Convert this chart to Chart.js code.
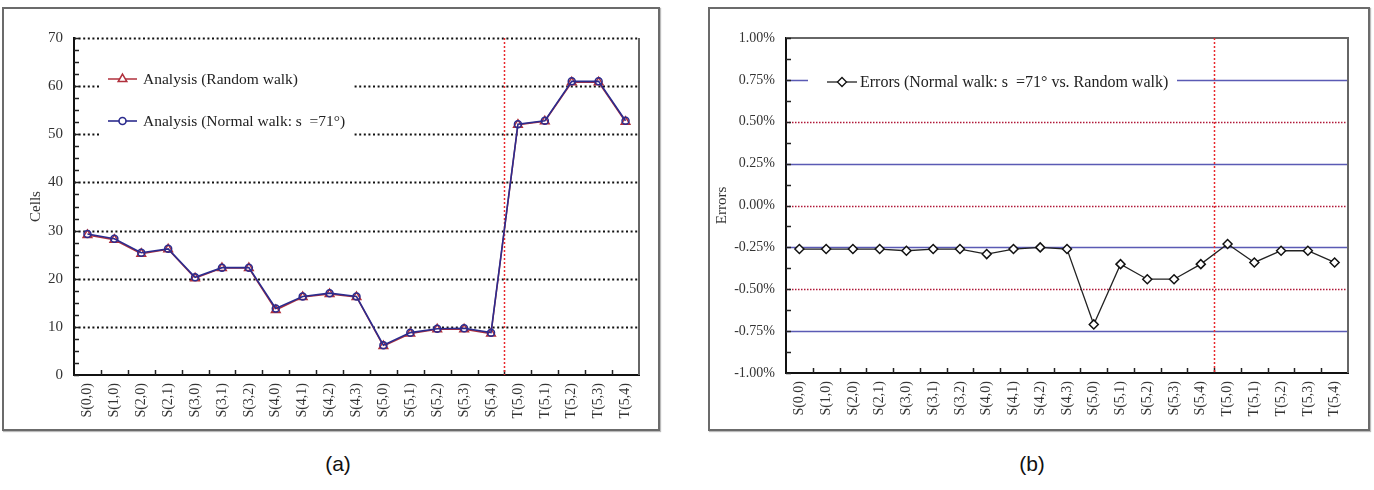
<!DOCTYPE html>
<html lang="en">
<head>
<meta charset="UTF-8">
<title>Cells and errors</title>
<script src="https://cdn.jsdelivr.net/npm/chart.js"></script>
<style>
    body { margin: 0; background: #fff; width: 1374px; height: 490px; position: relative; overflow: hidden; }
    .panel { position: absolute; top: 7px; height: 420px; border: 2px solid #6b6b6b; box-shadow: 1px 1px 1px #bbb; }
    #panelA { left: 2px; width: 654px; }
    #panelB { left: 708px; width: 658px; }
    .panel canvas { position: absolute; left: 0; top: 0; }
    .caption { position: absolute; top: 452px; font-family: "Liberation Sans", Arial, sans-serif; font-size: 21px; color: #111; width: 60px; text-align: center; }
</style>
</head>
<body>
    <div class="panel" id="panelA"><canvas id="cellsChart" width="654" height="420"></canvas></div>
    <div class="panel" id="panelB"><canvas id="errorsChart" width="658" height="420"></canvas></div>
    <div class="caption" style="left:308px">(a)</div>
    <div class="caption" style="left:1002px">(b)</div>
<script>
    var categorias = ['S(0,0)', 'S(1,0)', 'S(2,0)', 'S(2,1)', 'S(3,0)', 'S(3,1)', 'S(3,2)', 'S(4,0)', 'S(4,1)', 'S(4,2)', 'S(4,3)',
        'S(5,0)', 'S(5,1)', 'S(5,2)', 'S(5,3)', 'S(5,4)', 'T(5,0)', 'T(5,1)', 'T(5,2)', 'T(5,3)', 'T(5,4)']
    var randomWalk = [29.1, 28.1, 25.2, 26.1, 20.1, 22.2, 22.2, 13.5, 16.2, 16.8, 16.2, 6.0, 8.6, 9.5, 9.5, 8.6, 52.0, 52.7, 60.8, 60.8, 52.6]
    var normalWalk = [29.3, 28.3, 25.4, 26.2, 20.3, 22.3, 22.3, 13.8, 16.3, 17.0, 16.3, 6.2, 8.8, 9.6, 9.7, 8.8, 52.1, 52.8, 61.0, 61.0, 52.8]
    var erros = [-0.26, -0.26, -0.26, -0.26, -0.27, -0.26, -0.26, -0.29, -0.26, -0.25, -0.26,
        -0.71, -0.35, -0.44, -0.44, -0.35, -0.23, -0.34, -0.27, -0.27, -0.34]
    var cellsTicks = [0, 10, 20, 30, 40, 50, 60, 70]
    var errosTicks = [-1, -0.75, -0.5, -0.25, 0, 0.25, 0.5, 0.75, 1]
    var inicioT = categorias.indexOf('T(5,0)')

    var serif = '"Liberation Serif", "Times New Roman", serif'

    // grid, inner ticks, split line and the legend box inside the plot
    const decor = {
        id: 'decor',
        beforeDatasetsDraw(chart, args, opts) {
            const ctx = chart.ctx, a = chart.chartArea, x = chart.scales.x, y = chart.scales.y
            ctx.save()
            y.ticks.forEach(function (t) {
                var st = opts.gridStyle(t.value)
                if (!st) return
                var py = Math.round(y.getPixelForValue(t.value)) + 0.5
                ctx.beginPath()
                ctx.strokeStyle = st.color
                ctx.lineWidth = st.width
                ctx.setLineDash(st.dash || [])
                ctx.moveTo(a.left, py)
                ctx.lineTo(a.right, py)
                ctx.stroke()
            })
            ctx.setLineDash([])
            // frame on right (and top)
            ctx.strokeStyle = '#666'
            ctx.lineWidth = 2
            ctx.beginPath()
            if (opts.topBorder) { ctx.moveTo(a.left, a.top); ctx.lineTo(a.right, a.top) } else { ctx.moveTo(a.right, a.top) }
            ctx.lineTo(a.right, a.bottom)
            ctx.stroke()
            // inner minor ticks on y
            ctx.strokeStyle = '#222'
            ctx.lineWidth = 1.5
            for (var v = y.min; v <= y.max + 1e-9; v += opts.minorStep) {
                var p = Math.round(y.getPixelForValue(v)) + 0.5
                ctx.beginPath(); ctx.moveTo(a.left, p); ctx.lineTo(a.left + 5, p); ctx.stroke()
            }
            // inner ticks on x at category boundaries
            for (var i = 1; i < categorias.length; i++) {
                var bx = Math.round((x.getPixelForValue(i - 1) + x.getPixelForValue(i)) / 2) + 0.5
                ctx.beginPath(); ctx.moveTo(bx, a.bottom); ctx.lineTo(bx, a.bottom - 5); ctx.stroke()
            }
            // red split line between S and T
            var sx = Math.round((x.getPixelForValue(inicioT - 1) + x.getPixelForValue(inicioT)) / 2) + 0.5
            ctx.strokeStyle = '#e8282c'
            ctx.lineWidth = 1.5
            ctx.setLineDash([2, 2])
            ctx.beginPath(); ctx.moveTo(sx, a.top); ctx.lineTo(sx, a.bottom); ctx.stroke()
            ctx.setLineDash([])
            // legend
            var lg = opts.legend
            ctx.fillStyle = '#fff'
            ctx.fillRect(a.left + lg.box[0], a.top + lg.box[1], lg.box[2], lg.box[3])
            chart.data.datasets.forEach(function (ds, k) {
                var ly = a.top + lg.rows[k]
                ctx.strokeStyle = ds.borderColor
                ctx.lineWidth = ds.borderWidth
                ctx.beginPath(); ctx.moveTo(a.left + lg.line[0], ly); ctx.lineTo(a.left + lg.line[1], ly); ctx.stroke()
                ctx.fillStyle = '#fff'
                ctx.strokeStyle = ds.pointBorderColor
                Chart.helpers.drawPoint(ctx, { pointStyle: ds.pointStyle, radius: ds.pointRadius, borderWidth: ds.pointBorderWidth, rotation: 0 },
                    a.left + (lg.line[0] + lg.line[1]) / 2, ly)
                ctx.fillStyle = '#222'
                ctx.font = lg.fontSize + 'px ' + serif
                ctx.textAlign = 'left'
                ctx.textBaseline = 'middle'
                ctx.fillText(ds.label, a.left + lg.text, ly + 1)
            })
            ctx.restore()
        }
    }

    function eixoX(altura) {
        return {
            type: 'category',
            offset: true,
            grid: { display: false, drawTicks: false },
            border: { display: true, color: '#111', width: 2 },
            ticks: { color: '#333', font: { family: serif, size: 14 }, minRotation: 90, maxRotation: 90, padding: 8, autoSkip: false },
            afterFit: function (s) { s.height = altura }
        }
    }

    new Chart(document.getElementById('cellsChart'), {
        type: 'line',
        data: {
            labels: categorias,
            datasets: [{
                label: 'Analysis (Random walk)',
                data: randomWalk,
                order: 2,
                borderColor: '#b0303c',
                borderWidth: 1.5,
                pointStyle: 'triangle',
                pointRadius: 5,
                pointBorderWidth: 1.5,
                pointBorderColor: '#b0303c',
                pointBackgroundColor: '#fff',
                tension: 0
            }, {
                label: 'Analysis (Normal walk: s  =71°)',
                data: normalWalk,
                order: 1,
                borderColor: '#2c2c8e',
                borderWidth: 1.6,
                pointStyle: 'circle',
                pointRadius: 3.5,
                pointBorderWidth: 1.5,
                pointBorderColor: '#2c2c8e',
                pointBackgroundColor: 'rgba(255,255,255,0)',
                tension: 0
            }]
        },
        options: {
            responsive: false,
            animation: false,
            layout: { padding: { left: 20, top: 29, right: 19, bottom: 0 } },
            scales: {
                x: eixoX(54),
                y: {
                    min: 0, max: 70,
                    afterBuildTicks: function (s) { s.ticks = cellsTicks.map(function (v) { return { value: v } }) },
                    grid: { display: false, drawTicks: false },
                    border: { display: true, color: '#111', width: 2 },
                    ticks: { color: '#333', font: { family: serif, size: 15 }, padding: 11 },
                    title: { display: true, text: 'Cells', color: '#333', font: { family: serif, size: 15 }, padding: { top: 3, bottom: 0 } },
                    afterFit: function (s) { s.width = 50 }
                }
            },
            plugins: {
                legend: { display: false },
                tooltip: { enabled: false },
                decor: {
                    gridStyle: function (v) { return v > 0 ? { color: '#111', width: 2, dash: [2, 2.6] } : null },
                    minorStep: 2.5,
                    topBorder: false,
                    legend: { box: [26, 24, 252, 116], rows: [41, 83], line: [34, 63], text: 69, fontSize: 15.5 }
                }
            }
        },
        plugins: [decor]
    });

    new Chart(document.getElementById('errorsChart'), {
        type: 'line',
        data: {
            labels: categorias,
            datasets: [{
                label: 'Errors (Normal walk: s  =71° vs. Random walk)',
                data: erros,
                borderColor: '#222',
                borderWidth: 1.3,
                pointStyle: 'rectRot',
                pointRadius: 4.5,
                pointBorderWidth: 1.5,
                pointBorderColor: '#111',
                pointBackgroundColor: '#fff',
                tension: 0
            }]
        },
        options: {
            responsive: false,
            animation: false,
            layout: { padding: { left: 0, top: 29, right: 20, bottom: 0 } },
            scales: {
                x: eixoX(56),
                y: {
                    min: -1, max: 1,
                    afterBuildTicks: function (s) { s.ticks = errosTicks.map(function (v) { return { value: v } }) },
                    grid: { display: false, drawTicks: false },
                    border: { display: true, color: '#111', width: 2 },
                    ticks: {
                        color: '#333', font: { family: serif, size: 14 }, padding: 11,
                        callback: function (v) { return v.toFixed(2) + '%' }
                    },
                    title: { display: true, text: 'Errors', color: '#333', font: { family: serif, size: 15 }, padding: { top: 3, bottom: 0 } },
                    afterFit: function (s) { s.width = 76 }
                }
            },
            plugins: {
                legend: { display: false },
                tooltip: { enabled: false },
                decor: {
                    gridStyle: function (v) {
                        var m = Math.abs(v)
                        if (m === 1) return null
                        if (m === 0.75 || m === 0.25) return { color: '#5a5ab4', width: 1.3 }
                        return { color: '#b01838', width: 1.5, dash: [1.5, 1.5] }
                    },
                    minorStep: 0.125,
                    topBorder: true,
                    legend: { box: [22, 30, 369, 28], rows: [44], line: [41, 71], text: 74, fontSize: 16 }
                }
            }
        },
        plugins: [decor]
    });
</script>
</body>
</html>
